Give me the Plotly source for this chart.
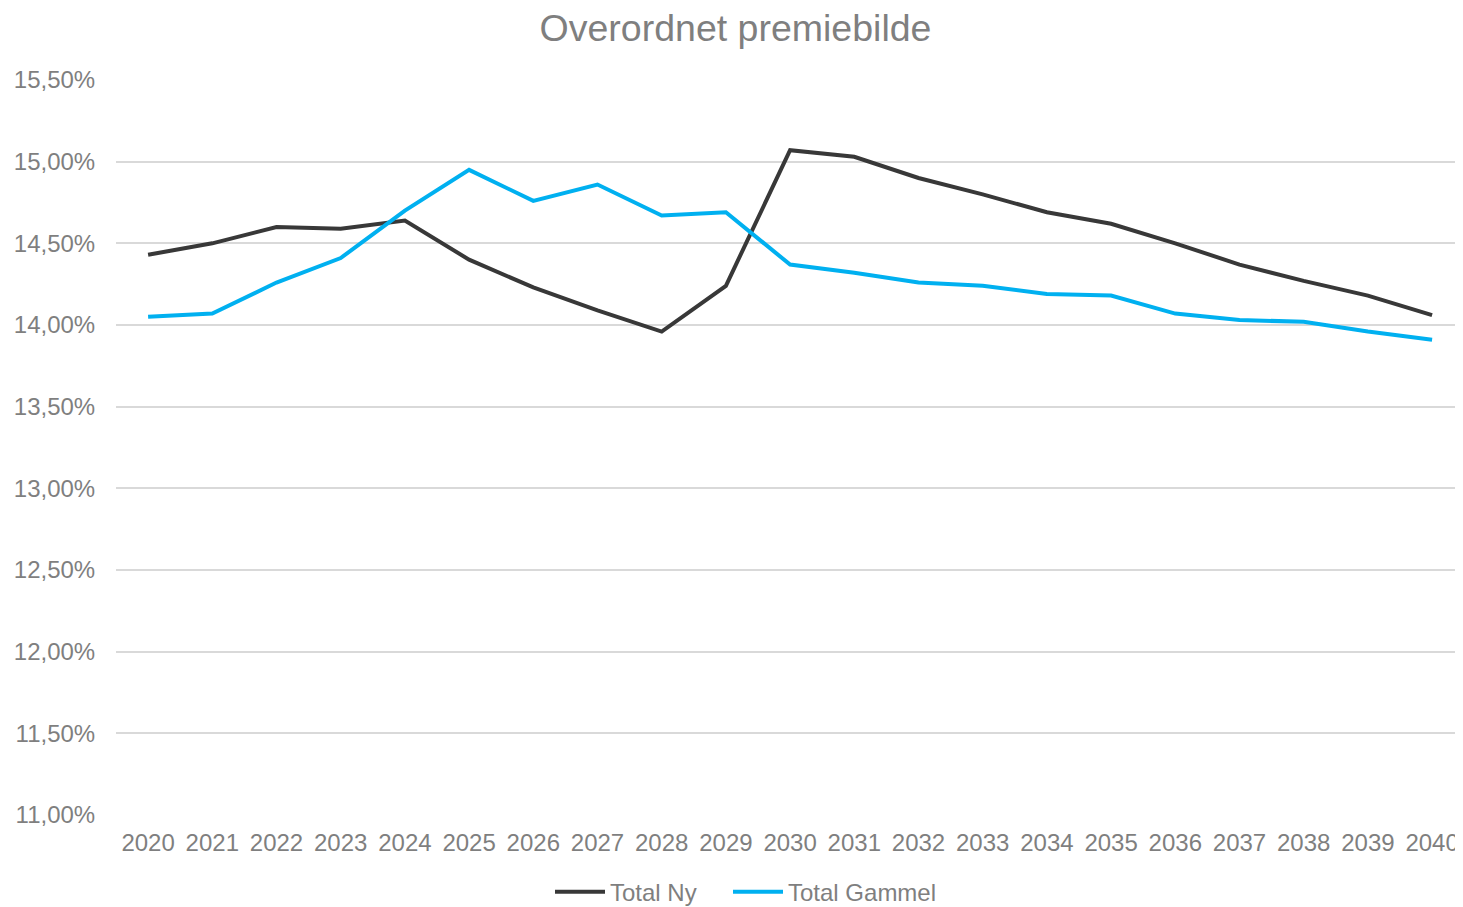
import plotly.graph_objects as go

years = [str(y) for y in range(2020, 2041)]
total_ny = [14.43, 14.50, 14.60, 14.59, 14.64, 14.40, 14.23, 14.09, 13.96, 14.24,
            15.07, 15.03, 14.90, 14.80, 14.69, 14.62, 14.50, 14.37, 14.27, 14.18, 14.06]
total_gammel = [14.05, 14.07, 14.26, 14.41, 14.70, 14.95, 14.76, 14.86, 14.67, 14.69,
                14.37, 14.32, 14.26, 14.24, 14.19, 14.18, 14.07, 14.03, 14.02, 13.96, 13.91]
y_ticks = [11.0, 11.5, 12.0, 12.5, 13.0, 13.5, 14.0, 14.5, 15.0, 15.5]

grey = "#7f7f7f"
fig = go.Figure()
fig.add_trace(go.Scatter(x=years, y=[v / 100 for v in total_ny], mode="lines",
                         name="Total Ny", line=dict(color="#383838", width=4),
                         legend="legend"))
fig.add_trace(go.Scatter(x=years, y=[v / 100 for v in total_gammel], mode="lines",
                         name="Total Gammel", line=dict(color="#00b0f0", width=4),
                         legend="legend2"))

legend_common = dict(orientation="h", xanchor="left", y=-0.105, yanchor="middle",
                     font=dict(size=24, color=grey), itemwidth=50,
                     bgcolor="rgba(0,0,0,0)")

fig.update_layout(
    width=1455, height=899,
    separators=",.",
    paper_bgcolor="white", plot_bgcolor="white",
    font=dict(family="Liberation Sans, Arial, sans-serif", size=24, color=grey),
    title=dict(text="Overordnet premiebilde", x=0.5, xanchor="center",
               y=1 - 20 / 899, yanchor="middle", font=dict(size=37.5, color=grey)),
    margin=dict(l=108, r=8, t=72, b=92, autoexpand=False),
    showlegend=True,
    legend=dict(x=(550 - 116) / 1339, **legend_common),
    legend2=dict(x=(728 - 116) / 1339, **legend_common),
    xaxis=dict(type="category", range=[-0.5, 20.357], showgrid=False, showline=False,
               automargin=False, ticks="outside", ticklen=6,
               tickcolor="rgba(0,0,0,0)", zeroline=False),
    yaxis=dict(range=[0.11, 0.155], tickvals=[v / 100 for v in y_ticks], tickformat=".2%",
               showgrid=True, gridcolor="#d9d9d9", gridwidth=1.5, zeroline=False,
               automargin=False, showline=False, ticks="outside", ticklen=15,
               tickcolor="rgba(0,0,0,0)"),
)

fig.write_html("out.html")
